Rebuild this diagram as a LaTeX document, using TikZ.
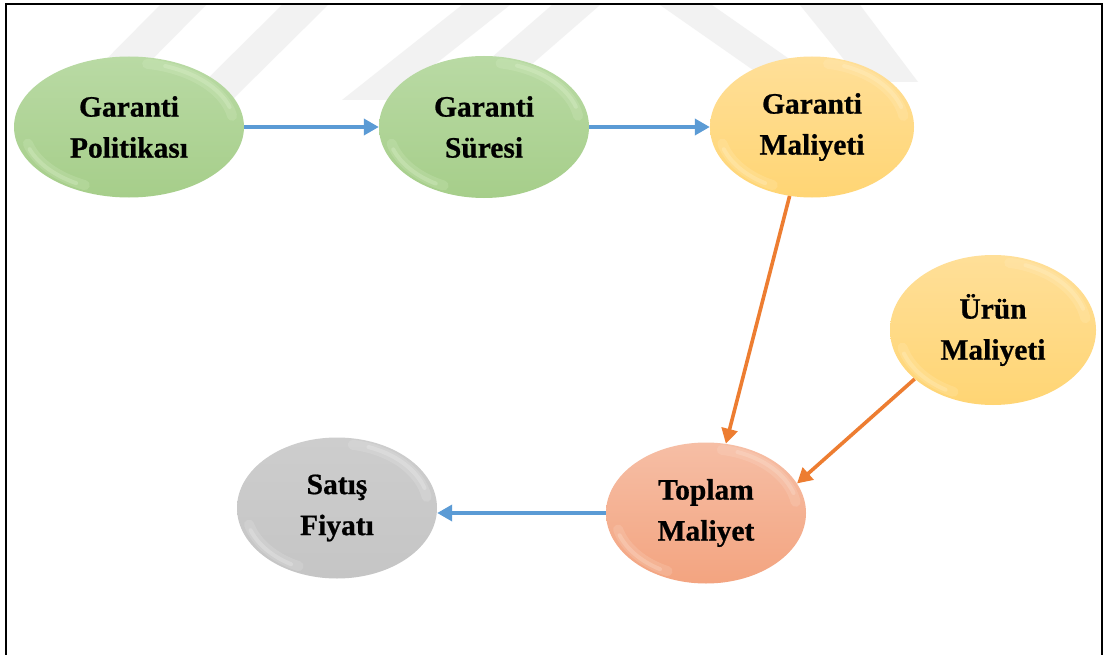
\documentclass[tikz,border=0pt]{standalone}
\usepackage{fontspec}
\setmainfont{Liberation Serif}[BoldFeatures={FakeBold=0.7}]
\usetikzlibrary{shapes.geometric,arrows.meta,calc}

% colours of the bubbles and connectors
\definecolor{grTop}{HTML}{B9DAA4}
\definecolor{grBot}{HTML}{A6CE8A}
\definecolor{grRim}{HTML}{E4F6D4}
\definecolor{yeTop}{HTML}{FFDF98}
\definecolor{yeBot}{HTML}{FFD574}
\definecolor{yeRim}{HTML}{FFF4CF}
\definecolor{saTop}{HTML}{F6BEA5}
\definecolor{saBot}{HTML}{F3A480}
\definecolor{saRim}{HTML}{FDE6D8}
\definecolor{gyTop}{HTML}{CDCDCD}
\definecolor{gyBot}{HTML}{C5C5C5}
\definecolor{gyRim}{HTML}{F2F2F2}
\definecolor{flowBlue}{HTML}{5B9BD5}
\definecolor{flowOrange}{HTML}{ED7D31}
\definecolor{mark}{HTML}{F2F2F2}

\tikzset{
  bubble/.style n args={3}{
    ellipse, inner sep=0pt, shade, top color=#1, bottom color=#2,
    font=\bfseries\fontsize{29.5}{41}\selectfont, align=center,
    path picture={
      \path let \p1=(path picture bounding box.north east),
                \p2=(path picture bounding box.center),
                \n1={0.91*(\x1-\x2)}, \n2={0.91*(\y1-\y2)} in
        [draw=#3, line width=10pt, draw opacity=.22, line cap=round]
          ($(\p2)+({\n1*cos(10)},{\n2*sin(10)})$)
          arc[start angle=10, end angle=80, x radius=\n1, y radius=\n2]
        [draw=#3, line width=10pt, draw opacity=.18, line cap=round]
          ($(\p2)+({\n1*cos(195)},{\n2*sin(195)})$)
          arc[start angle=195, end angle=245, x radius=\n1, y radius=\n2];
      \path let \p1=(path picture bounding box.north east),
                \p2=(path picture bounding box.center),
                \n1={0.92*(\x1-\x2)}, \n2={0.92*(\y1-\y2)} in
        [draw=#3, line width=4pt, draw opacity=.35, line cap=round]
          ($(\p2)+({\n1*cos(18)},{\n2*sin(18)})$)
          arc[start angle=18, end angle=70, x radius=\n1, y radius=\n2]
        [draw=#3, line width=4pt, draw opacity=.28, line cap=round]
          ($(\p2)+({\n1*cos(200)},{\n2*sin(200)})$)
          arc[start angle=200, end angle=240, x radius=\n1, y radius=\n2];
    }
  },
  green/.style={bubble={grTop}{grBot}{grRim}},
  yellow/.style={bubble={yeTop}{yeBot}{yeRim}},
  salmon/.style={bubble={saTop}{saBot}{saRim}},
  grey/.style={bubble={gyTop}{gyBot}{gyRim}},
  flow/.style={line width=3.6pt, -{Triangle[length=15pt,width=16pt]}},
  blueflow/.style={flow, draw=flowBlue},
  orangeflow/.style={flow, draw=flowOrange},
  band/.style={fill=mark, draw=none}
}

\begin{document}
\begin{tikzpicture}[x=1pt,y=1pt]
\useasboundingbox (0,0) rectangle (1107,-655);
\fill[white] (0,0) rectangle (1107,-655);

% faint striped emblem along the top edge
\fill[band] (160,-5) -- (206,-5) -- (112,-100) -- (66,-100) -- cycle;
\fill[band] (282,-5) -- (328,-5) -- (232,-100) -- (186,-100) -- cycle;
\fill[band] (462,-5) -- (510,-5) -- (390,-100) -- (342,-100) -- cycle;
\fill[band] (552,-5) -- (600,-5) -- (508,-85) -- (460,-85) -- cycle;
\fill[band] (660,-5) -- (712,-5) -- (848,-100) -- (796,-100) -- cycle;
\fill[band] (800,-5) -- (860,-5) -- (918,-82) -- (862,-82) -- cycle;

% frame
\draw[line width=2.2pt] (6,-660) -- (6,-4) -- (1102,-4) -- (1102,-660);

% bubbles
\node[green, minimum width=230pt, minimum height=141pt] (gp) at (129,-127)
  {Garanti\\Politikası};
\node[green, minimum width=210pt, minimum height=142pt] (gs) at (484,-127)
  {Garanti\\Süresi};
\node[yellow, minimum width=204pt, minimum height=141pt] (gm) at (812,-127)
  {Garanti\\Maliyeti};
\node[yellow, minimum width=206pt, minimum height=150pt] (um) at (993,-330)
  {Ürün\\Maliyeti};
\node[salmon, minimum width=200pt, minimum height=141pt] (tm) at (706,-513)
  {Toplam\\Maliyet};
\node[grey, minimum width=200pt, minimum height=141pt] (sf) at (337,-508)
  {Satış\\Fiyatı};

% connectors
\draw[blueflow] (gp.east) -- (gs.west);
\draw[blueflow] (gs.east) -- (gm.west);
\draw[orangeflow] (gm.-108) -- (tm.74);
\draw[orangeflow] (um.-148) -- (tm.18);
\draw[blueflow] (tm.west) -- (sf.east |- tm.west);
\end{tikzpicture}
\end{document}
